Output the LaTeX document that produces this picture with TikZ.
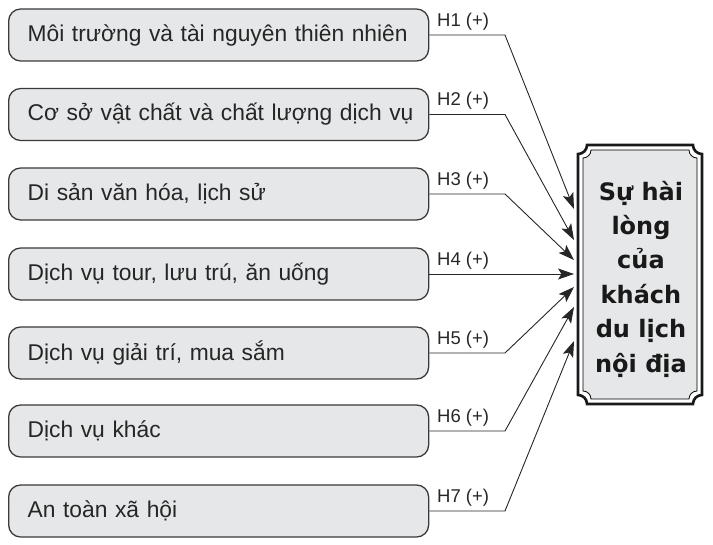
\documentclass[tikz,border=0pt]{standalone}
\usepackage{fontspec}
\setmainfont{Liberation Sans}
\newfontfamily\tgtfont{DejaVu Sans}
\usetikzlibrary{arrows.meta,calc}
\definecolor{boxfill}{HTML}{E6E7E8}
\definecolor{boxline}{HTML}{3A3A3A}
\begin{document}
\begin{tikzpicture}[x=1pt,y=-1pt,
  factor/.style={draw=boxline, line width=1.3pt, fill=boxfill, rounded corners=12pt,
    minimum height=52pt, text width=382pt, inner xsep=19pt, inner ysep=0pt, align=left,
    anchor=west, font=\fontsize{22.8}{26}\selectfont, text=black!85},
  hlabel/.style={anchor=south west, inner sep=0pt, font=\fontsize{18.5}{20}\selectfont, text=black!85},
  link/.style={line width=0.9pt, draw=black!85, -{Stealth[length=16pt,width=11pt,inset=3.5pt]}}]
\useasboundingbox (0,0) rectangle (713,545);

% factor boxes
\node[factor] (b1) at (8,35) {\mbox{Môi trường và tài nguyên thiên nhiên}};
\node[factor] (b2) at (8,114.5) {\mbox{Cơ sở vật chất và chất lượng dịch vụ}};
\node[factor] (b3) at (8,194) {\mbox{Di sản văn hóa, lịch sử}};
\node[factor] (b4) at (8,274) {\mbox{Dịch vụ tour, lưu trú, ăn uống}};
\node[factor] (b5) at (8,353) {\mbox{Dịch vụ giải trí, mua sắm}};
\node[factor] (b6) at (8,431) {\mbox{Dịch vụ khác}};
\node[factor] (b7) at (8,511) {\mbox{An toàn xã hội}};

% target box
\fill[white] (578,154) .. controls (583,154) and (587,150) .. (587,145) -- (693,145)
  .. controls (693,150) and (697,154) .. (702,154) -- (702,395)
  .. controls (697,395) and (693,399) .. (693,404) -- (587,404)
  .. controls (587,399) and (583,395) .. (578,395) -- cycle;
\draw[line width=0.8pt, draw=black, fill=boxfill] (583,158) .. controls (587.4,158) and (591,154.4) .. (591,150) -- (689,150)
  .. controls (689,154.4) and (692.6,158) .. (697,158) -- (697,391)
  .. controls (692.6,391) and (689,394.6) .. (689,399) -- (591,399)
  .. controls (591,394.6) and (587.4,391) .. (583,391) -- cycle;
\draw[line width=2.6pt, draw=black!90] (578,154) .. controls (583,154) and (587,150) .. (587,145) -- (693,145)
  .. controls (693,150) and (697,154) .. (702,154) -- (702,395)
  .. controls (697,395) and (693,399) .. (693,404) -- (587,404)
  .. controls (587,399) and (583,395) .. (578,395) -- cycle;
\node[align=center, inner sep=0pt, font=\tgtfont\bfseries\fontsize{24}{34.4}\selectfont, text=black!90]
  (T) at (641,279) {Sự hài\\lòng\\của\\khách\\du lịch\\nội địa};

% bend points and tips
\coordinate (k1) at (505,35);   \coordinate (t1) at (574,209);
\coordinate (k2) at (505,114.5);\coordinate (t2) at (574,240);
\coordinate (k3) at (505,194);  \coordinate (t3) at (574,260);
\coordinate (t4) at (574,274);
\coordinate (k5) at (505,353);  \coordinate (t5) at (574,287);
\coordinate (k6) at (505,431);  \coordinate (t6) at (574,307);
\coordinate (k7) at (505,511);  \coordinate (t7) at (574,341);

\draw[link] (b1.east) -- (k1) -- (t1);
\draw[link] (b2.east) -- (k2) -- (t2);
\draw[link] (b3.east) -- (k3) -- (t3);
\draw[link] (b4.east) -- (t4);
\draw[link] (b5.east) -- (k5) -- (t5);
\draw[link] (b6.east) -- (k6) -- (t6);
\draw[link] (b7.east) -- (k7) -- (t7);

\node[hlabel] (h1) at (437,30.5) {H1 (+)};
\node[hlabel] (h2) at (437,110) {H2 (+)};
\node[hlabel] (h3) at (437,189.5) {H3 (+)};
\node[hlabel] (h4) at (437,269.5) {H4 (+)};
\node[hlabel] (h5) at (437,348.5) {H5 (+)};
\node[hlabel] (h6) at (437,426.5) {H6 (+)};
\node[hlabel] (h7) at (437,506.5) {H7 (+)};
\end{tikzpicture}
\end{document}
